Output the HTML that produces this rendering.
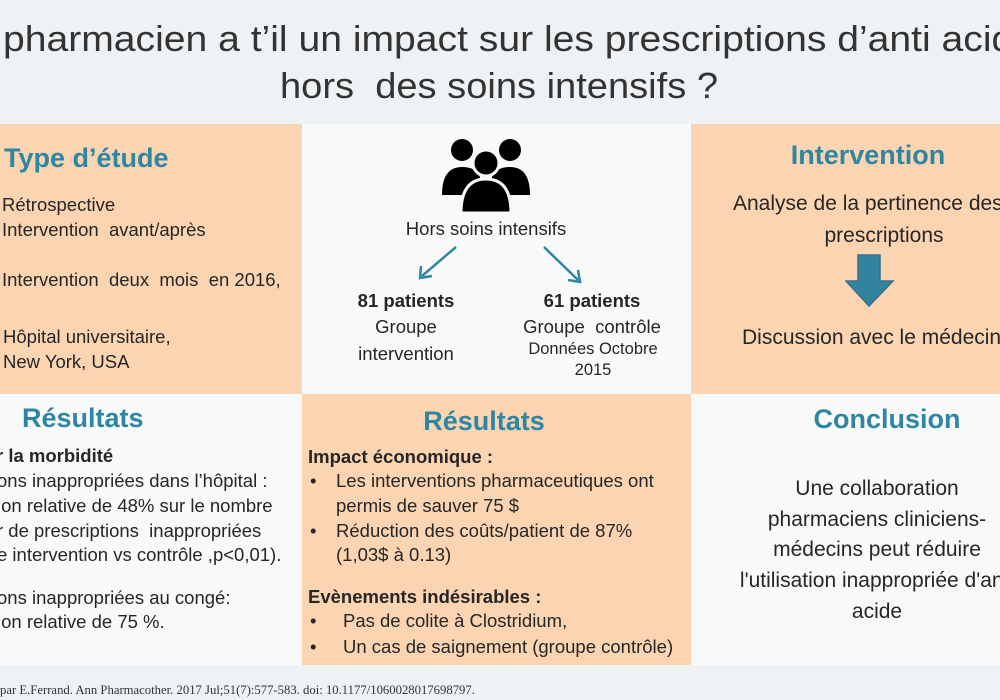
<!DOCTYPE html>
<html><head><meta charset="utf-8"><style>
body{margin:0;width:1000px;height:700px;overflow:hidden;background:#eef2f4;font-family:"Liberation Sans",sans-serif;color:#262626;position:relative}
div{position:absolute;white-space:nowrap}
.p{background:#fbd4b2}.w{background:#f8fafa}
.h{color:#2e86a2;font-weight:bold;font-size:27px;line-height:30px}
.t{font-size:18.5px;line-height:20px}
.c{transform:translateX(-50%);text-align:center}
.b{font-size:21px;line-height:24px}
</style></head><body>
<svg style="position:absolute;left:0;top:0" width="1000" height="124">
<text x="3" y="51" font-family="Liberation Sans" font-size="36" fill="#333" textLength="1032" lengthAdjust="spacingAndGlyphs">pharmacien a t’il un impact sur les prescriptions d’anti acide</text>
<text x="280" y="98" font-family="Liberation Sans" font-size="36" fill="#333" textLength="438" lengthAdjust="spacingAndGlyphs">hors&#160; des soins intensifs ?</text>
</svg>

<div class="p" style="left:0;top:124px;width:302px;height:270px"></div>
<div class="w" style="left:302px;top:124px;width:389px;height:270px"></div>
<div class="p" style="left:691px;top:124px;width:309px;height:270px"></div>
<div class="w" style="left:0;top:394px;width:302px;height:271px"></div>
<div class="p" style="left:302px;top:394px;width:389px;height:271px"></div>
<div class="w" style="left:691px;top:394px;width:309px;height:271px"></div>

<div class="h" style="left:4px;top:143px">Type d’étude</div>
<div class="t" style="left:2px;top:195px">Rétrospective</div>
<div class="t" style="left:2px;top:220px">Intervention&nbsp; avant/après</div>
<div class="t" style="left:2px;top:270px">Intervention&nbsp; deux&nbsp; mois&nbsp; en 2016,</div>
<div class="t" style="left:3px;top:327px">Hôpital universitaire,</div>
<div class="t" style="left:3px;top:352px">New York, USA</div>

<svg style="position:absolute;left:440px;top:135px" width="92" height="80" viewBox="0 0 92 80">
<circle cx="22" cy="15" r="11" fill="#000"/><circle cx="70" cy="15" r="11" fill="#000"/>
<path d="M2 60 Q2 32 22 32 Q36 32 40 42 L40 60Z" fill="#000"/><path d="M90 60 Q90 32 70 32 Q56 32 52 42 L52 60Z" fill="#000"/>
<circle cx="46" cy="28" r="13" fill="#000" stroke="#f8fafa" stroke-width="3"/>
<path d="M21 78 Q21 44 46 44 Q71 44 71 78Z" fill="#000" stroke="#f8fafa" stroke-width="3"/>
</svg>
<div class="t c" style="left:486px;top:219px">Hors soins intensifs</div>
<svg style="position:absolute;left:410px;top:242px" width="180" height="45">
<g stroke="#2e86a2" stroke-width="2.5" fill="none"><line x1="46" y1="5" x2="12" y2="34"/><polyline points="11,24 10,36 22,34"/><line x1="134" y1="5" x2="168" y2="38"/><polyline points="158,38 170,40 168,28"/></g></svg>
<div class="t c" style="left:406px;top:291px;font-weight:bold">81 patients</div>
<div class="t c" style="left:406px;top:317px">Groupe</div>
<div class="t c" style="left:406px;top:344px">intervention</div>
<div class="t c" style="left:592px;top:291px;font-weight:bold">61 patients</div>
<div class="t c" style="left:592px;top:317px">Groupe&nbsp; contrôle</div>
<div class="c" style="left:593px;top:340px;font-size:16.5px">Données Octobre</div>
<div class="c" style="left:593px;top:361px;font-size:16.5px">2015</div>

<div class="h c" style="left:868px;top:140px">Intervention</div>
<div class="b" style="left:733px;top:192px">Analyse de la pertinence des</div>
<div class="b c" style="left:884px;top:224px">prescriptions</div>
<svg style="position:absolute;left:845px;top:254px" width="50" height="54"><path d="M13 1 H35 V27 H48 L24 52 L1 27 H13Z" fill="#31839e" stroke="#3a6e8e" stroke-width="1.5"/></svg>
<div class="b" style="left:742px;top:326px">Discussion avec le médecin</div>

<div class="h" style="left:22px;top:403px">Résultats</div>
<div class="t" style="left:-4px;top:446px;font-weight:bold">r la morbidité</div>
<div class="t" style="left:-3px;top:471px">ons inappropriées dans l’hôpital :</div>
<div class="t" style="left:-3px;top:496px">ion relative de 48% sur le nombre</div>
<div class="t" style="left:-3px;top:521px">r de prescriptions&nbsp; inappropriées</div>
<div class="t" style="left:-3px;top:545px">e intervention vs contrôle ,p&lt;0,01).</div>
<div class="t" style="left:-3px;top:588px">ons inappropriées au congé:</div>
<div class="t" style="left:-3px;top:612px">ion relative de 75 %.</div>

<div class="h c" style="left:484px;top:406px">Résultats</div>
<div class="t" style="left:308px;top:447px;font-weight:bold">Impact économique :</div>
<div class="t" style="left:310px;top:471px">•</div><div class="t" style="left:336px;top:471px">Les interventions pharmaceutiques ont</div>
<div class="t" style="left:336px;top:496px">permis de sauver 75 $</div>
<div class="t" style="left:310px;top:521px">•</div><div class="t" style="left:336px;top:521px">Réduction des coûts/patient de 87%</div>
<div class="t" style="left:336px;top:545px">(1,03$ à 0.13)</div>
<div class="t" style="left:308px;top:587px;font-weight:bold">Evènements indésirables :</div>
<div class="t" style="left:310px;top:611px">•</div><div class="t" style="left:343px;top:611px">Pas de colite à Clostridium,</div>
<div class="t" style="left:310px;top:637px">•</div><div class="t" style="left:343px;top:637px">Un cas de saignement (groupe contrôle)</div>

<div class="h c" style="left:887px;top:404px">Conclusion</div>
<div class="b c" style="left:877px;top:477px">Une collaboration</div>
<div class="b c" style="left:877px;top:508px">pharmaciens cliniciens-</div>
<div class="b c" style="left:877px;top:538px">médecins peut réduire</div>
<div class="b c" style="left:877px;top:569px">l'utilisation inappropriée d'anti</div>
<div class="b c" style="left:877px;top:600px">acide</div>

<div style="left:0;top:683px;font-family:'Liberation Serif',serif;font-size:12.7px;color:#333">par E.Ferrand. Ann Pharmacother. 2017 Jul;51(7):577-583. doi: 10.1177/1060028017698797.</div>
</body></html>
